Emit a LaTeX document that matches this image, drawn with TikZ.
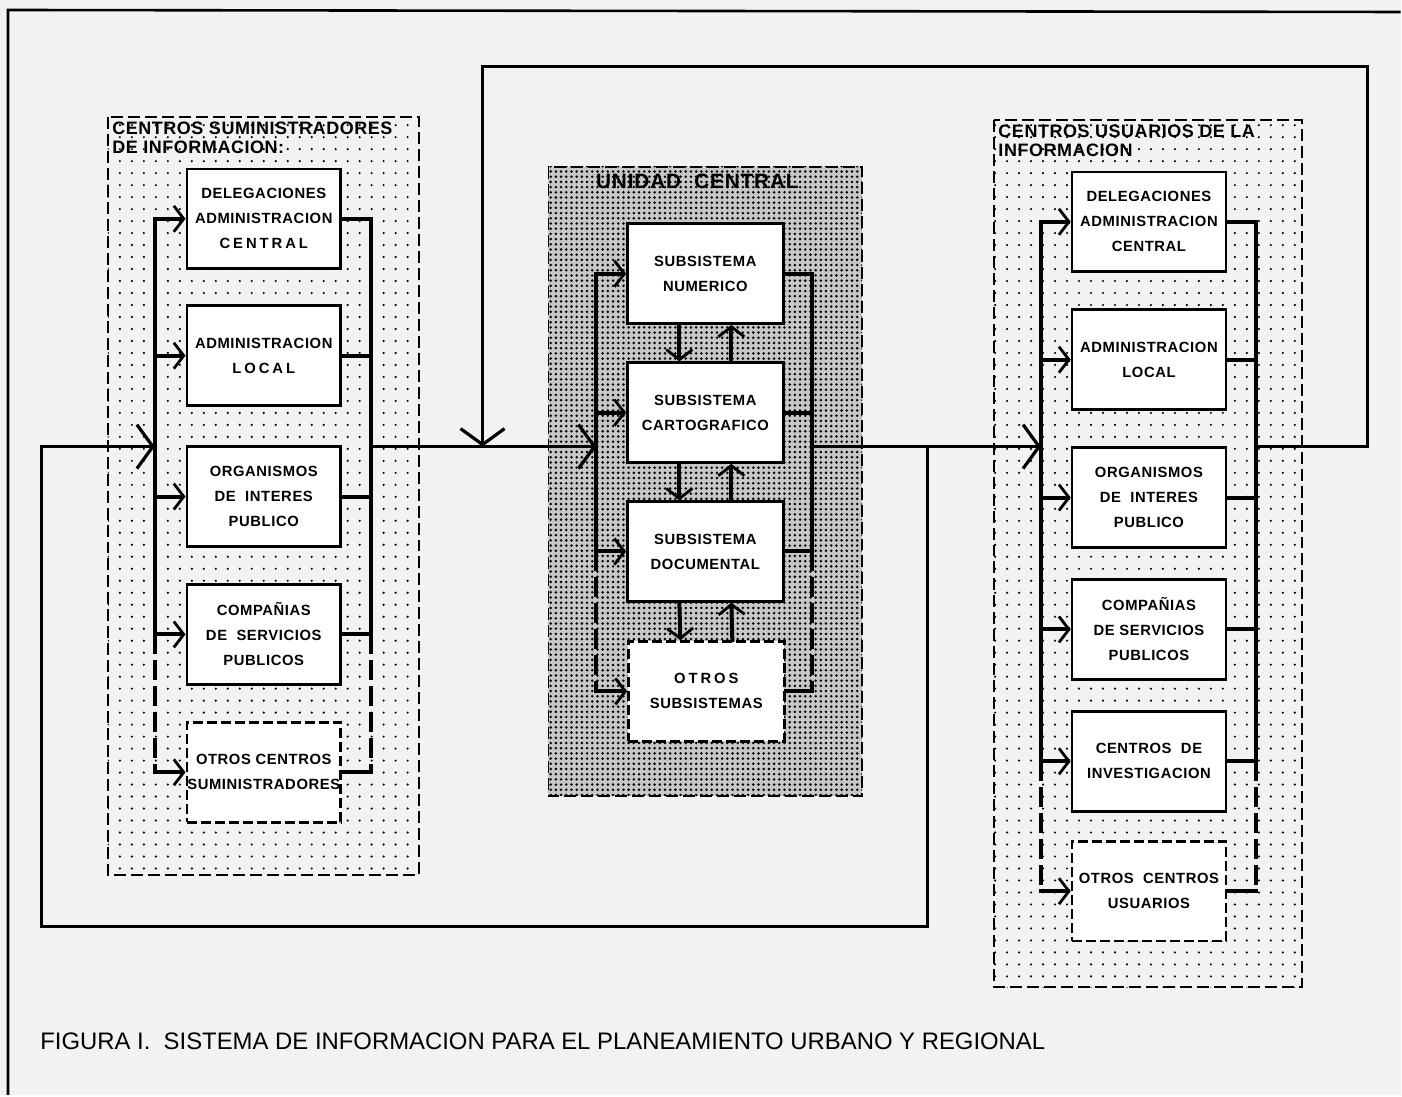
\documentclass[tikz,border=0pt]{standalone}
\usepackage{fontspec}
\setmainfont{Liberation Sans}
\newfontfamily\boxfont{Liberation Sans}[LetterSpace=4]
\newfontfamily\widefont{Liberation Sans}[LetterSpace=20]
\newfontfamily\titlefont{Liberation Sans}[LetterSpace=3]
\usetikzlibrary{arrows.meta, patterns.meta}

\tikzset{
  unitbox/.style={draw, line width=1.3pt, fill=white, minimum width=77pt, minimum height=50pt, inner sep=0pt, align=center, font=\boxfont\bfseries\fontsize{7.4}{12.5}\selectfont},
  otherbox/.style={unitbox, dash pattern=on 5pt off 2pt},
  centre/.style={draw, dash pattern=on 6pt off 2.5pt, line width=0.9pt},
  bus/.style={line width=2pt, line cap=rect},
  busdash/.style={line width=2pt, dash pattern=on 10pt off 3pt},
  loopline/.style={line width=1.5pt},
  tipin/.style={-{Straight Barb[length=5pt, width=13pt, line width=1.4pt]}},
  tipbig/.style={-{Straight Barb[length=8pt, width=22pt, line width=1.6pt]}},
  grouptitle/.style={anchor=north west, align=left, inner sep=0pt, font=\titlefont\bfseries\fontsize{9}{9.4}\selectfont}
}

\begin{document}
\begin{tikzpicture}[x=0.5pt, y=-0.5pt]
  \fill[black!5] (0,0) rectangle (1402,1096);
  \draw[line width=1.3pt] (8,1096) -- (8,10) -- (1402,12);

  \path[centre, pattern={Dots[distance=6pt, radius=0.6pt]}] (108,117) rectangle (419,876);
  \path[centre, preaction={fill=black!22}, pattern={Dots[distance=2.6pt, radius=0.7pt]}] (549,167) rectangle (863,797);
  \path[centre, pattern={Dots[distance=6pt, radius=0.6pt]}] (995,120) rectangle (1303,988);

  \node[grouptitle] (stitle) at (112,122) {CENTROS SUMINISTRADORES\\DE INFORMACION:};
  \node[grouptitle] (utitle) at (999,125) {CENTROS USUARIOS DE LA\\INFORMACION};
  \node[font=\boxfont\bfseries\fontsize{10.4}{12}\selectfont] (ctitle) at (698,182) {UNIDAD\ \ CENTRAL};

  \node[unitbox] (s1) at (264,219) {DELEGACIONES\\ADMINISTRACION\\{\widefont CENTRAL}};
  \node[unitbox] (s2) at (264,356) {ADMINISTRACION\\{\widefont LOCAL}};
  \node[unitbox] (s3) at (264,497) {ORGANISMOS\\DE\ \ INTERES\\PUBLICO};
  \node[unitbox] (s4) at (264,635) {COMPAÑIAS\\DE\ \ SERVICIOS\\PUBLICOS};
  \node[otherbox] (s5) at (264,773) {OTROS CENTROS\\SUMINISTRADORES};

  \node[unitbox, minimum width=78pt] (c1) at (706,274) {SUBSISTEMA\\NUMERICO};
  \node[unitbox, minimum width=78pt] (c2) at (706,413) {SUBSISTEMA\\CARTOGRAFICO};
  \node[unitbox, minimum width=78pt] (c3) at (706,552) {SUBSISTEMA\\DOCUMENTAL};
  \node[otherbox, minimum width=78pt] (c4) at (707,692) {{\widefont OTROS}\\SUBSISTEMAS};

  \node[unitbox] (u1) at (1150,222) {DELEGACIONES\\ADMINISTRACION\\CENTRAL};
  \node[unitbox] (u2) at (1150,360) {ADMINISTRACION\\LOCAL};
  \node[unitbox] (u3) at (1150,498) {ORGANISMOS\\DE\ \ INTERES\\PUBLICO};
  \node[unitbox] (u4) at (1150,630) {COMPAÑIAS\\DE SERVICIOS\\PUBLICOS};
  \node[unitbox] (u5) at (1150,762) {CENTROS\ \ DE\\INVESTIGACION};
  \node[otherbox] (u6) at (1150,892) {OTROS\ \ CENTROS\\USUARIOS};

  \coordinate (sL) at (155,447); \coordinate (sR) at (371,447);
  \coordinate (cL) at (597,447); \coordinate (cR) at (813,447);
  \coordinate (uL) at (1042,447); \coordinate (uR) at (1257,447);
  \coordinate (tl) at (483,447); \coordinate (br) at (928,447);

  % buses
  \foreach \n in {1,...,5} {\draw[bus, tipin] (sL |- s\n.west) -- (s\n.west); \draw[bus] (s\n.east) -- (sR |- s\n.east);}
  \draw[bus] (sL |- s1.west) -- (sL |- s4.west); \draw[busdash] (sL |- s4.west) -- (sL |- s5.west);
  \draw[bus] (sR |- s1.east) -- (sR |- s4.east); \draw[busdash] (sR |- s4.east) -- (sR |- s5.east);

  \foreach \n in {1,...,4} {\draw[bus, tipin] (cL |- c\n.west) -- (c\n.west); \draw[bus] (c\n.east) -- (cR |- c\n.east);}
  \draw[bus] (cL |- c1.west) -- (cL |- c3.west); \draw[busdash] (cL |- c3.west) -- (cL |- c4.west);
  \draw[bus] (cR |- c1.east) -- (cR |- c3.east); \draw[busdash] (cR |- c3.east) -- (cR |- c4.east);
  \foreach \a/\b in {c1/c2, c2/c3, c3/c4} {
    \draw[bus, tipin] ([xshift=-13pt]\a.south) -- ([xshift=-13pt]\b.north);
    \draw[bus, tipin] ([xshift=13pt]\b.north) -- ([xshift=13pt]\a.south);}

  \foreach \n in {1,...,6} {\draw[bus, tipin] (uL |- u\n.west) -- (u\n.west); \draw[bus] (u\n.east) -- (uR |- u\n.east);}
  \draw[bus] (uL |- u1.west) -- (uL |- u5.west); \draw[busdash] (uL |- u5.west) -- (uL |- u6.west);
  \draw[bus] (uR |- u1.east) -- (uR |- u5.east); \draw[busdash] (uR |- u5.east) -- (uR |- u6.east);

  % main flow and feedback loops
  \draw[loopline, tipbig] (sR) -- (cL);
  \draw[loopline, tipbig] (cR) -- (uL);
  \draw[loopline, tipbig] (uR) -- (1369,447) -- (1369,67) -- (483,67) -- (tl);
  \draw[loopline, tipbig] (br) -- (928,927) -- (42,927) -- (42,447) -- (sL);

  \node[anchor=west, inner sep=0pt, font=\fontsize{11.95}{14}\selectfont] (caption) at (40,1042) {FIGURA I.\ \ SISTEMA DE INFORMACION PARA EL PLANEAMIENTO URBANO Y REGIONAL};
\end{tikzpicture}
\end{document}
